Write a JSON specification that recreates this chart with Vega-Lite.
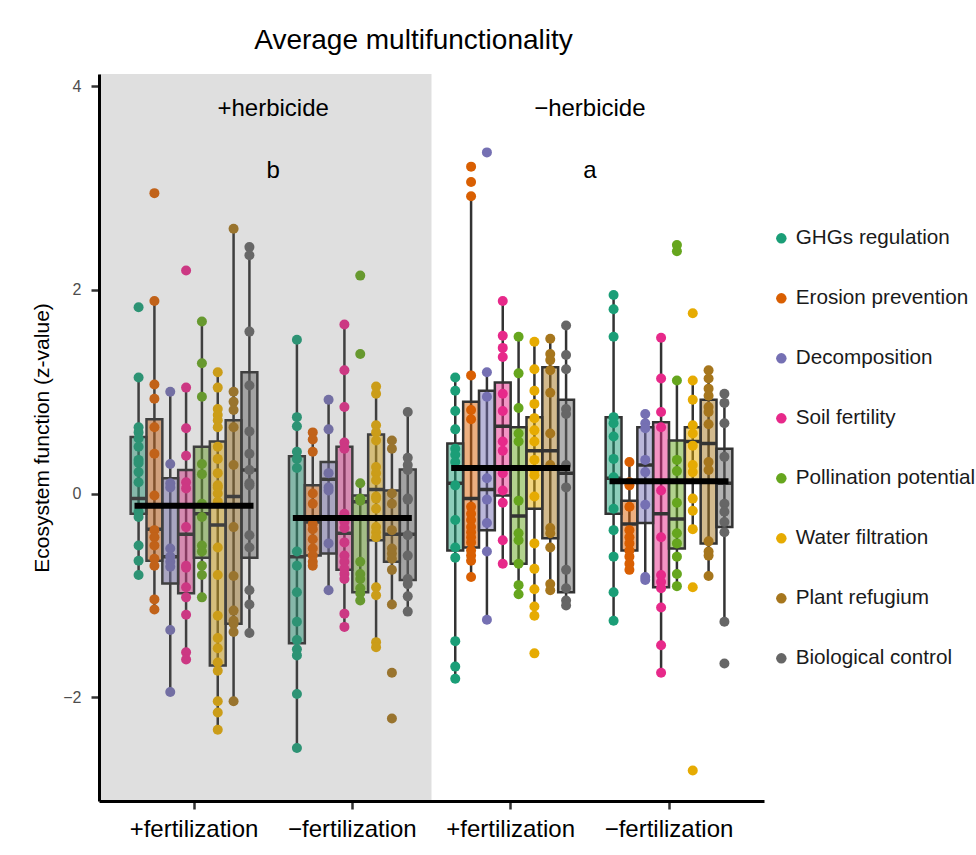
{
  "$schema": "https://vega.github.io/schema/vega-lite/v6.json",
  "width": 665,
  "height": 727,
  "autosize": "none",
  "padding": {"left": 99, "top": 74, "right": 212, "bottom": 54},
  "background": "white",
  "config": {
    "font": "Liberation Sans",
    "view": {"stroke": null},
    "axis": {"grid": false}
  },
  "title": {
    "text": "Average multifunctionality",
    "fontSize": 28,
    "fontWeight": "normal",
    "color": "black",
    "anchor": "middle",
    "frame": "group",
    "baseline": "alphabetic",
    "offset": -3,
    "dx": -18
  },
  "datasets": {
    "boxes": [
      {"g": "H+F+", "f": "GHGs regulation", "lo": -0.80, "q1": -0.20, "med": -0.05, "q3": 0.555, "hi": 1.14},
      {"g": "H+F+", "f": "Erosion prevention", "lo": -1.14, "q1": -0.66, "med": -0.35, "q3": 0.73, "hi": 1.89},
      {"g": "H+F+", "f": "Decomposition", "lo": -1.95, "q1": -0.885, "med": -0.62, "q3": 0.15, "hi": 1.00},
      {"g": "H+F+", "f": "Soil fertility", "lo": -1.63, "q1": -0.98, "med": -0.40, "q3": 0.23, "hi": 1.04},
      {"g": "H+F+", "f": "Pollination potential", "lo": -1.02, "q1": -0.63, "med": -0.20, "q3": 0.46, "hi": 1.69},
      {"g": "H+F+", "f": "Water filtration", "lo": -2.32, "q1": -1.69, "med": -0.31, "q3": 0.51, "hi": 1.19},
      {"g": "H+F+", "f": "Plant refugium", "lo": -2.04, "q1": -1.28, "med": -0.03, "q3": 0.72, "hi": 2.60},
      {"g": "H+F+", "f": "Biological control", "lo": -1.37, "q1": -0.63, "med": 0.23, "q3": 1.19, "hi": 2.42},
      {"g": "H+F−", "f": "GHGs regulation", "lo": -2.50, "q1": -1.47, "med": -0.62, "q3": 0.365, "hi": 1.51},
      {"g": "H+F−", "f": "Erosion prevention", "lo": -0.71, "q1": -0.61, "med": -0.28, "q3": 0.08, "hi": 0.60},
      {"g": "H+F−", "f": "Decomposition", "lo": -0.95, "q1": -0.59, "med": 0.14, "q3": 0.31, "hi": 0.92},
      {"g": "H+F−", "f": "Soil fertility", "lo": -1.31, "q1": -0.75, "med": -0.39, "q3": 0.46, "hi": 1.66},
      {"g": "H+F−", "f": "Pollination potential", "lo": -1.05, "q1": -0.97, "med": -0.08, "q3": -0.02, "hi": 0.10},
      {"g": "H+F−", "f": "Water filtration", "lo": -1.51, "q1": -0.46, "med": 0.04, "q3": 0.58, "hi": 1.05},
      {"g": "H+F−", "f": "Plant refugium", "lo": -1.09, "q1": -0.67, "med": -0.40, "q3": 0.03, "hi": 0.52},
      {"g": "H+F−", "f": "Biological control", "lo": -1.16, "q1": -0.85, "med": -0.40, "q3": 0.235, "hi": 0.80},
      {"g": "H−F+", "f": "GHGs regulation", "lo": -1.82, "q1": -0.56, "med": 0.10, "q3": 0.49, "hi": 1.14},
      {"g": "H−F+", "f": "Erosion prevention", "lo": -0.82, "q1": -0.53, "med": -0.05, "q3": 0.90, "hi": 2.92},
      {"g": "H−F+", "f": "Decomposition", "lo": -1.24, "q1": -0.36, "med": 0.04, "q3": 1.01, "hi": 1.19},
      {"g": "H−F+", "f": "Soil fertility", "lo": -0.69, "q1": -0.02, "med": 0.66, "q3": 1.09, "hi": 1.89},
      {"g": "H−F+", "f": "Pollination potential", "lo": -0.99, "q1": -0.69, "med": -0.22, "q3": 0.65, "hi": 1.54},
      {"g": "H−F+", "f": "Water filtration", "lo": -1.20, "q1": -0.15, "med": 0.42, "q3": 0.75, "hi": 1.49},
      {"g": "H−F+", "f": "Plant refugium", "lo": -0.95, "q1": -0.44, "med": 0.42, "q3": 1.24, "hi": 1.52},
      {"g": "H−F+", "f": "Biological control", "lo": -1.10, "q1": -0.97, "med": 0.20, "q3": 0.92, "hi": 1.65},
      {"g": "H−F−", "f": "GHGs regulation", "lo": -1.25, "q1": -0.20, "med": 0.15, "q3": 0.75, "hi": 1.95},
      {"g": "H−F−", "f": "Erosion prevention", "lo": -0.75, "q1": -0.56, "med": -0.30, "q3": -0.07, "hi": 0.31},
      {"g": "H−F−", "f": "Decomposition", "lo": -0.85, "q1": -0.29, "med": 0.28, "q3": 0.65, "hi": 0.78},
      {"g": "H−F−", "f": "Soil fertility", "lo": -1.76, "q1": -0.92, "med": -0.20, "q3": 0.70, "hi": 1.53},
      {"g": "H−F−", "f": "Pollination potential", "lo": -0.91, "q1": -0.54, "med": -0.25, "q3": 0.52, "hi": 1.11},
      {"g": "H−F−", "f": "Water filtration", "lo": -0.35, "q1": 0.12, "med": 0.51, "q3": 0.65, "hi": 1.11},
      {"g": "H−F−", "f": "Plant refugium", "lo": -0.81, "q1": -0.49, "med": 0.49, "q3": 0.92, "hi": 1.21},
      {"g": "H−F−", "f": "Biological control", "lo": -1.26, "q1": -0.33, "med": 0.10, "q3": 0.44, "hi": 0.98}
    ],
    "means": [
      {"g": "H+F+", "mean": -0.12},
      {"g": "H+F−", "mean": -0.24},
      {"g": "H−F+", "mean": 0.25},
      {"g": "H−F−", "mean": 0.12}
    ],
    "notes": [
      {"g": "H+F−", "label": "+herbicide", "v": 3.78},
      {"g": "H−F−", "label": "−herbicide", "v": 3.78},
      {"g": "H+F−", "label": "b", "v": 3.17},
      {"g": "H−F−", "label": "a", "v": 3.17}
    ],
    "pts": [
      {"g": "H+F+", "f": "GHGs regulation", "v": 1.83},
      {"g": "H+F+", "f": "GHGs regulation", "v": 1.14},
      {"g": "H+F+", "f": "GHGs regulation", "v": 0.65},
      {"g": "H+F+", "f": "GHGs regulation", "v": 0.60},
      {"g": "H+F+", "f": "GHGs regulation", "v": 0.54},
      {"g": "H+F+", "f": "GHGs regulation", "v": 0.46},
      {"g": "H+F+", "f": "GHGs regulation", "v": 0.33},
      {"g": "H+F+", "f": "GHGs regulation", "v": 0.30},
      {"g": "H+F+", "f": "GHGs regulation", "v": 0.21},
      {"g": "H+F+", "f": "GHGs regulation", "v": 0.11},
      {"g": "H+F+", "f": "GHGs regulation", "v": -0.18},
      {"g": "H+F+", "f": "GHGs regulation", "v": -0.23},
      {"g": "H+F+", "f": "GHGs regulation", "v": -0.51},
      {"g": "H+F+", "f": "GHGs regulation", "v": -0.66},
      {"g": "H+F+", "f": "GHGs regulation", "v": -0.80},
      {"g": "H+F+", "f": "Erosion prevention", "v": 2.95},
      {"g": "H+F+", "f": "Erosion prevention", "v": 1.89},
      {"g": "H+F+", "f": "Erosion prevention", "v": 1.07},
      {"g": "H+F+", "f": "Erosion prevention", "v": 0.93},
      {"g": "H+F+", "f": "Erosion prevention", "v": 0.65},
      {"g": "H+F+", "f": "Erosion prevention", "v": 0.39},
      {"g": "H+F+", "f": "Erosion prevention", "v": -0.02},
      {"g": "H+F+", "f": "Erosion prevention", "v": -0.36},
      {"g": "H+F+", "f": "Erosion prevention", "v": -0.43},
      {"g": "H+F+", "f": "Erosion prevention", "v": -0.51},
      {"g": "H+F+", "f": "Erosion prevention", "v": -0.64},
      {"g": "H+F+", "f": "Erosion prevention", "v": -0.71},
      {"g": "H+F+", "f": "Erosion prevention", "v": -1.04},
      {"g": "H+F+", "f": "Erosion prevention", "v": -1.14},
      {"g": "H+F+", "f": "Decomposition", "v": 1.00},
      {"g": "H+F+", "f": "Decomposition", "v": 0.29},
      {"g": "H+F+", "f": "Decomposition", "v": 0.10},
      {"g": "H+F+", "f": "Decomposition", "v": 0.06},
      {"g": "H+F+", "f": "Decomposition", "v": -0.54},
      {"g": "H+F+", "f": "Decomposition", "v": -0.62},
      {"g": "H+F+", "f": "Decomposition", "v": -0.67},
      {"g": "H+F+", "f": "Decomposition", "v": -0.72},
      {"g": "H+F+", "f": "Decomposition", "v": -1.34},
      {"g": "H+F+", "f": "Decomposition", "v": -1.95},
      {"g": "H+F+", "f": "Soil fertility", "v": 2.19},
      {"g": "H+F+", "f": "Soil fertility", "v": 1.04},
      {"g": "H+F+", "f": "Soil fertility", "v": 0.64},
      {"g": "H+F+", "f": "Soil fertility", "v": 0.37},
      {"g": "H+F+", "f": "Soil fertility", "v": 0.11},
      {"g": "H+F+", "f": "Soil fertility", "v": 0.05},
      {"g": "H+F+", "f": "Soil fertility", "v": -0.33},
      {"g": "H+F+", "f": "Soil fertility", "v": -0.71},
      {"g": "H+F+", "f": "Soil fertility", "v": -0.73},
      {"g": "H+F+", "f": "Soil fertility", "v": -0.92},
      {"g": "H+F+", "f": "Soil fertility", "v": -1.02},
      {"g": "H+F+", "f": "Soil fertility", "v": -1.19},
      {"g": "H+F+", "f": "Soil fertility", "v": -1.56},
      {"g": "H+F+", "f": "Soil fertility", "v": -1.63},
      {"g": "H+F+", "f": "Pollination potential", "v": 1.69},
      {"g": "H+F+", "f": "Pollination potential", "v": 1.28},
      {"g": "H+F+", "f": "Pollination potential", "v": 0.95},
      {"g": "H+F+", "f": "Pollination potential", "v": 0.29},
      {"g": "H+F+", "f": "Pollination potential", "v": 0.19},
      {"g": "H+F+", "f": "Pollination potential", "v": -0.10},
      {"g": "H+F+", "f": "Pollination potential", "v": -0.23},
      {"g": "H+F+", "f": "Pollination potential", "v": -0.51},
      {"g": "H+F+", "f": "Pollination potential", "v": -0.57},
      {"g": "H+F+", "f": "Pollination potential", "v": -0.71},
      {"g": "H+F+", "f": "Pollination potential", "v": -0.80},
      {"g": "H+F+", "f": "Pollination potential", "v": -1.02},
      {"g": "H+F+", "f": "Water filtration", "v": 1.19},
      {"g": "H+F+", "f": "Water filtration", "v": 1.04},
      {"g": "H+F+", "f": "Water filtration", "v": 0.83},
      {"g": "H+F+", "f": "Water filtration", "v": 0.77},
      {"g": "H+F+", "f": "Water filtration", "v": 0.72},
      {"g": "H+F+", "f": "Water filtration", "v": 0.65},
      {"g": "H+F+", "f": "Water filtration", "v": 0.46},
      {"g": "H+F+", "f": "Water filtration", "v": 0.34},
      {"g": "H+F+", "f": "Water filtration", "v": 0.20},
      {"g": "H+F+", "f": "Water filtration", "v": 0.08},
      {"g": "H+F+", "f": "Water filtration", "v": 0.06},
      {"g": "H+F+", "f": "Water filtration", "v": 0.00},
      {"g": "H+F+", "f": "Water filtration", "v": -0.08},
      {"g": "H+F+", "f": "Water filtration", "v": -0.53},
      {"g": "H+F+", "f": "Water filtration", "v": -0.80},
      {"g": "H+F+", "f": "Water filtration", "v": -1.20},
      {"g": "H+F+", "f": "Water filtration", "v": -1.42},
      {"g": "H+F+", "f": "Water filtration", "v": -1.52},
      {"g": "H+F+", "f": "Water filtration", "v": -1.66},
      {"g": "H+F+", "f": "Water filtration", "v": -1.74},
      {"g": "H+F+", "f": "Water filtration", "v": -2.04},
      {"g": "H+F+", "f": "Water filtration", "v": -2.15},
      {"g": "H+F+", "f": "Water filtration", "v": -2.32},
      {"g": "H+F+", "f": "Plant refugium", "v": 2.60},
      {"g": "H+F+", "f": "Plant refugium", "v": 1.00},
      {"g": "H+F+", "f": "Plant refugium", "v": 0.90},
      {"g": "H+F+", "f": "Plant refugium", "v": 0.82},
      {"g": "H+F+", "f": "Plant refugium", "v": 0.65},
      {"g": "H+F+", "f": "Plant refugium", "v": 0.28},
      {"g": "H+F+", "f": "Plant refugium", "v": -0.33},
      {"g": "H+F+", "f": "Plant refugium", "v": -0.81},
      {"g": "H+F+", "f": "Plant refugium", "v": -1.15},
      {"g": "H+F+", "f": "Plant refugium", "v": -1.25},
      {"g": "H+F+", "f": "Plant refugium", "v": -1.28},
      {"g": "H+F+", "f": "Plant refugium", "v": -1.36},
      {"g": "H+F+", "f": "Plant refugium", "v": -2.04},
      {"g": "H+F+", "f": "Biological control", "v": 2.42},
      {"g": "H+F+", "f": "Biological control", "v": 2.34},
      {"g": "H+F+", "f": "Biological control", "v": 1.59},
      {"g": "H+F+", "f": "Biological control", "v": 1.06},
      {"g": "H+F+", "f": "Biological control", "v": 0.61},
      {"g": "H+F+", "f": "Biological control", "v": 0.39},
      {"g": "H+F+", "f": "Biological control", "v": 0.23},
      {"g": "H+F+", "f": "Biological control", "v": 0.10},
      {"g": "H+F+", "f": "Biological control", "v": 0.08},
      {"g": "H+F+", "f": "Biological control", "v": -0.41},
      {"g": "H+F+", "f": "Biological control", "v": -0.53},
      {"g": "H+F+", "f": "Biological control", "v": -0.95},
      {"g": "H+F+", "f": "Biological control", "v": -1.09},
      {"g": "H+F+", "f": "Biological control", "v": -1.37},
      {"g": "H+F−", "f": "GHGs regulation", "v": 1.51},
      {"g": "H+F−", "f": "GHGs regulation", "v": 0.75},
      {"g": "H+F−", "f": "GHGs regulation", "v": 0.66},
      {"g": "H+F−", "f": "GHGs regulation", "v": 0.41},
      {"g": "H+F−", "f": "GHGs regulation", "v": 0.34},
      {"g": "H+F−", "f": "GHGs regulation", "v": 0.25},
      {"g": "H+F−", "f": "GHGs regulation", "v": -0.57},
      {"g": "H+F−", "f": "GHGs regulation", "v": -0.71},
      {"g": "H+F−", "f": "GHGs regulation", "v": -0.97},
      {"g": "H+F−", "f": "GHGs regulation", "v": -1.26},
      {"g": "H+F−", "f": "GHGs regulation", "v": -1.44},
      {"g": "H+F−", "f": "GHGs regulation", "v": -1.53},
      {"g": "H+F−", "f": "GHGs regulation", "v": -1.59},
      {"g": "H+F−", "f": "GHGs regulation", "v": -1.97},
      {"g": "H+F−", "f": "GHGs regulation", "v": -2.50},
      {"g": "H+F−", "f": "Erosion prevention", "v": 0.60},
      {"g": "H+F−", "f": "Erosion prevention", "v": 0.53},
      {"g": "H+F−", "f": "Erosion prevention", "v": 0.41},
      {"g": "H+F−", "f": "Erosion prevention", "v": 0.00},
      {"g": "H+F−", "f": "Erosion prevention", "v": -0.10},
      {"g": "H+F−", "f": "Erosion prevention", "v": -0.30},
      {"g": "H+F−", "f": "Erosion prevention", "v": -0.35},
      {"g": "H+F−", "f": "Erosion prevention", "v": -0.45},
      {"g": "H+F−", "f": "Erosion prevention", "v": -0.54},
      {"g": "H+F−", "f": "Erosion prevention", "v": -0.61},
      {"g": "H+F−", "f": "Erosion prevention", "v": -0.67},
      {"g": "H+F−", "f": "Erosion prevention", "v": -0.71},
      {"g": "H+F−", "f": "Decomposition", "v": 0.92},
      {"g": "H+F−", "f": "Decomposition", "v": 0.63},
      {"g": "H+F−", "f": "Decomposition", "v": 0.20},
      {"g": "H+F−", "f": "Decomposition", "v": 0.06},
      {"g": "H+F−", "f": "Decomposition", "v": 0.03},
      {"g": "H+F−", "f": "Decomposition", "v": -0.49},
      {"g": "H+F−", "f": "Decomposition", "v": -0.95},
      {"g": "H+F−", "f": "Soil fertility", "v": 1.66},
      {"g": "H+F−", "f": "Soil fertility", "v": 1.21},
      {"g": "H+F−", "f": "Soil fertility", "v": 0.85},
      {"g": "H+F−", "f": "Soil fertility", "v": 0.50},
      {"g": "H+F−", "f": "Soil fertility", "v": 0.44},
      {"g": "H+F−", "f": "Soil fertility", "v": -0.20},
      {"g": "H+F−", "f": "Soil fertility", "v": -0.28},
      {"g": "H+F−", "f": "Soil fertility", "v": -0.34},
      {"g": "H+F−", "f": "Soil fertility", "v": -0.48},
      {"g": "H+F−", "f": "Soil fertility", "v": -0.61},
      {"g": "H+F−", "f": "Soil fertility", "v": -0.67},
      {"g": "H+F−", "f": "Soil fertility", "v": -0.74},
      {"g": "H+F−", "f": "Soil fertility", "v": -0.79},
      {"g": "H+F−", "f": "Soil fertility", "v": -0.84},
      {"g": "H+F−", "f": "Soil fertility", "v": -1.18},
      {"g": "H+F−", "f": "Soil fertility", "v": -1.31},
      {"g": "H+F−", "f": "Pollination potential", "v": 2.14},
      {"g": "H+F−", "f": "Pollination potential", "v": 1.37},
      {"g": "H+F−", "f": "Pollination potential", "v": 0.10},
      {"g": "H+F−", "f": "Pollination potential", "v": -0.05},
      {"g": "H+F−", "f": "Pollination potential", "v": -0.07},
      {"g": "H+F−", "f": "Pollination potential", "v": -0.67},
      {"g": "H+F−", "f": "Pollination potential", "v": -0.79},
      {"g": "H+F−", "f": "Pollination potential", "v": -0.84},
      {"g": "H+F−", "f": "Pollination potential", "v": -0.93},
      {"g": "H+F−", "f": "Pollination potential", "v": -0.98},
      {"g": "H+F−", "f": "Pollination potential", "v": -1.05},
      {"g": "H+F−", "f": "Water filtration", "v": 1.05},
      {"g": "H+F−", "f": "Water filtration", "v": 0.98},
      {"g": "H+F−", "f": "Water filtration", "v": 0.67},
      {"g": "H+F−", "f": "Water filtration", "v": 0.60},
      {"g": "H+F−", "f": "Water filtration", "v": 0.52},
      {"g": "H+F−", "f": "Water filtration", "v": 0.26},
      {"g": "H+F−", "f": "Water filtration", "v": 0.20},
      {"g": "H+F−", "f": "Water filtration", "v": 0.13},
      {"g": "H+F−", "f": "Water filtration", "v": -0.03},
      {"g": "H+F−", "f": "Water filtration", "v": -0.05},
      {"g": "H+F−", "f": "Water filtration", "v": -0.15},
      {"g": "H+F−", "f": "Water filtration", "v": -0.33},
      {"g": "H+F−", "f": "Water filtration", "v": -0.38},
      {"g": "H+F−", "f": "Water filtration", "v": -0.43},
      {"g": "H+F−", "f": "Water filtration", "v": -0.92},
      {"g": "H+F−", "f": "Water filtration", "v": -1.00},
      {"g": "H+F−", "f": "Water filtration", "v": -1.46},
      {"g": "H+F−", "f": "Water filtration", "v": -1.51},
      {"g": "H+F−", "f": "Plant refugium", "v": 0.52},
      {"g": "H+F−", "f": "Plant refugium", "v": 0.44},
      {"g": "H+F−", "f": "Plant refugium", "v": 0.00},
      {"g": "H+F−", "f": "Plant refugium", "v": -0.10},
      {"g": "H+F−", "f": "Plant refugium", "v": -0.36},
      {"g": "H+F−", "f": "Plant refugium", "v": -0.54},
      {"g": "H+F−", "f": "Plant refugium", "v": -0.59},
      {"g": "H+F−", "f": "Plant refugium", "v": -0.64},
      {"g": "H+F−", "f": "Plant refugium", "v": -0.75},
      {"g": "H+F−", "f": "Plant refugium", "v": -1.09},
      {"g": "H+F−", "f": "Plant refugium", "v": -1.76},
      {"g": "H+F−", "f": "Plant refugium", "v": -2.21},
      {"g": "H+F−", "f": "Biological control", "v": 0.80},
      {"g": "H+F−", "f": "Biological control", "v": 0.35},
      {"g": "H+F−", "f": "Biological control", "v": 0.28},
      {"g": "H+F−", "f": "Biological control", "v": 0.23},
      {"g": "H+F−", "f": "Biological control", "v": -0.05},
      {"g": "H+F−", "f": "Biological control", "v": -0.06},
      {"g": "H+F−", "f": "Biological control", "v": -0.41},
      {"g": "H+F−", "f": "Biological control", "v": -0.61},
      {"g": "H+F−", "f": "Biological control", "v": -0.84},
      {"g": "H+F−", "f": "Biological control", "v": -0.89},
      {"g": "H+F−", "f": "Biological control", "v": -1.01},
      {"g": "H+F−", "f": "Biological control", "v": -1.16},
      {"g": "H−F+", "f": "GHGs regulation", "v": 1.14},
      {"g": "H−F+", "f": "GHGs regulation", "v": 1.01},
      {"g": "H−F+", "f": "GHGs regulation", "v": 0.81},
      {"g": "H−F+", "f": "GHGs regulation", "v": 0.63},
      {"g": "H−F+", "f": "GHGs regulation", "v": 0.44},
      {"g": "H−F+", "f": "GHGs regulation", "v": 0.38},
      {"g": "H−F+", "f": "GHGs regulation", "v": 0.31},
      {"g": "H−F+", "f": "GHGs regulation", "v": 0.08},
      {"g": "H−F+", "f": "GHGs regulation", "v": -0.26},
      {"g": "H−F+", "f": "GHGs regulation", "v": -0.53},
      {"g": "H−F+", "f": "GHGs regulation", "v": -0.63},
      {"g": "H−F+", "f": "GHGs regulation", "v": -1.45},
      {"g": "H−F+", "f": "GHGs regulation", "v": -1.70},
      {"g": "H−F+", "f": "GHGs regulation", "v": -1.82},
      {"g": "H−F+", "f": "Erosion prevention", "v": 3.21},
      {"g": "H−F+", "f": "Erosion prevention", "v": 3.06},
      {"g": "H−F+", "f": "Erosion prevention", "v": 2.92},
      {"g": "H−F+", "f": "Erosion prevention", "v": 1.16},
      {"g": "H−F+", "f": "Erosion prevention", "v": 0.82},
      {"g": "H−F+", "f": "Erosion prevention", "v": 0.73},
      {"g": "H−F+", "f": "Erosion prevention", "v": -0.13},
      {"g": "H−F+", "f": "Erosion prevention", "v": -0.20},
      {"g": "H−F+", "f": "Erosion prevention", "v": -0.26},
      {"g": "H−F+", "f": "Erosion prevention", "v": -0.33},
      {"g": "H−F+", "f": "Erosion prevention", "v": -0.38},
      {"g": "H−F+", "f": "Erosion prevention", "v": -0.43},
      {"g": "H−F+", "f": "Erosion prevention", "v": -0.48},
      {"g": "H−F+", "f": "Erosion prevention", "v": -0.56},
      {"g": "H−F+", "f": "Erosion prevention", "v": -0.61},
      {"g": "H−F+", "f": "Erosion prevention", "v": -0.66},
      {"g": "H−F+", "f": "Erosion prevention", "v": -0.82},
      {"g": "H−F+", "f": "Decomposition", "v": 3.35},
      {"g": "H−F+", "f": "Decomposition", "v": 1.19},
      {"g": "H−F+", "f": "Decomposition", "v": 0.95},
      {"g": "H−F+", "f": "Decomposition", "v": 0.15},
      {"g": "H−F+", "f": "Decomposition", "v": -0.06},
      {"g": "H−F+", "f": "Decomposition", "v": -0.29},
      {"g": "H−F+", "f": "Decomposition", "v": -0.57},
      {"g": "H−F+", "f": "Decomposition", "v": -1.24},
      {"g": "H−F+", "f": "Soil fertility", "v": 1.89},
      {"g": "H−F+", "f": "Soil fertility", "v": 1.55},
      {"g": "H−F+", "f": "Soil fertility", "v": 1.43},
      {"g": "H−F+", "f": "Soil fertility", "v": 1.34},
      {"g": "H−F+", "f": "Soil fertility", "v": 0.98},
      {"g": "H−F+", "f": "Soil fertility", "v": 0.81},
      {"g": "H−F+", "f": "Soil fertility", "v": 0.51},
      {"g": "H−F+", "f": "Soil fertility", "v": 0.42},
      {"g": "H−F+", "f": "Soil fertility", "v": 0.20},
      {"g": "H−F+", "f": "Soil fertility", "v": 0.03},
      {"g": "H−F+", "f": "Soil fertility", "v": -0.09},
      {"g": "H−F+", "f": "Soil fertility", "v": -0.46},
      {"g": "H−F+", "f": "Soil fertility", "v": -0.69},
      {"g": "H−F+", "f": "Pollination potential", "v": 1.54},
      {"g": "H−F+", "f": "Pollination potential", "v": 1.18},
      {"g": "H−F+", "f": "Pollination potential", "v": 0.84},
      {"g": "H−F+", "f": "Pollination potential", "v": 0.59},
      {"g": "H−F+", "f": "Pollination potential", "v": 0.51},
      {"g": "H−F+", "f": "Pollination potential", "v": -0.07},
      {"g": "H−F+", "f": "Pollination potential", "v": -0.39},
      {"g": "H−F+", "f": "Pollination potential", "v": -0.46},
      {"g": "H−F+", "f": "Pollination potential", "v": -0.69},
      {"g": "H−F+", "f": "Pollination potential", "v": -0.90},
      {"g": "H−F+", "f": "Pollination potential", "v": -0.99},
      {"g": "H−F+", "f": "Water filtration", "v": 1.49},
      {"g": "H−F+", "f": "Water filtration", "v": 1.22},
      {"g": "H−F+", "f": "Water filtration", "v": 1.01},
      {"g": "H−F+", "f": "Water filtration", "v": 0.88},
      {"g": "H−F+", "f": "Water filtration", "v": 0.74},
      {"g": "H−F+", "f": "Water filtration", "v": 0.62},
      {"g": "H−F+", "f": "Water filtration", "v": 0.51},
      {"g": "H−F+", "f": "Water filtration", "v": 0.33},
      {"g": "H−F+", "f": "Water filtration", "v": 0.23},
      {"g": "H−F+", "f": "Water filtration", "v": 0.18},
      {"g": "H−F+", "f": "Water filtration", "v": -0.03},
      {"g": "H−F+", "f": "Water filtration", "v": -0.49},
      {"g": "H−F+", "f": "Water filtration", "v": -0.74},
      {"g": "H−F+", "f": "Water filtration", "v": -0.94},
      {"g": "H−F+", "f": "Water filtration", "v": -1.11},
      {"g": "H−F+", "f": "Water filtration", "v": -1.20},
      {"g": "H−F+", "f": "Water filtration", "v": -1.57},
      {"g": "H−F+", "f": "Plant refugium", "v": 1.52},
      {"g": "H−F+", "f": "Plant refugium", "v": 1.37},
      {"g": "H−F+", "f": "Plant refugium", "v": 1.31},
      {"g": "H−F+", "f": "Plant refugium", "v": 1.21},
      {"g": "H−F+", "f": "Plant refugium", "v": 0.99},
      {"g": "H−F+", "f": "Plant refugium", "v": 0.59},
      {"g": "H−F+", "f": "Plant refugium", "v": 0.28},
      {"g": "H−F+", "f": "Plant refugium", "v": -0.34},
      {"g": "H−F+", "f": "Plant refugium", "v": -0.39},
      {"g": "H−F+", "f": "Plant refugium", "v": -0.53},
      {"g": "H−F+", "f": "Plant refugium", "v": -0.89},
      {"g": "H−F+", "f": "Plant refugium", "v": -0.95},
      {"g": "H−F+", "f": "Biological control", "v": 1.65},
      {"g": "H−F+", "f": "Biological control", "v": 1.36},
      {"g": "H−F+", "f": "Biological control", "v": 1.22},
      {"g": "H−F+", "f": "Biological control", "v": 0.83},
      {"g": "H−F+", "f": "Biological control", "v": 0.78},
      {"g": "H−F+", "f": "Biological control", "v": 0.28},
      {"g": "H−F+", "f": "Biological control", "v": 0.06},
      {"g": "H−F+", "f": "Biological control", "v": -0.75},
      {"g": "H−F+", "f": "Biological control", "v": -0.93},
      {"g": "H−F+", "f": "Biological control", "v": -1.05},
      {"g": "H−F+", "f": "Biological control", "v": -1.10},
      {"g": "H−F−", "f": "GHGs regulation", "v": 1.95},
      {"g": "H−F−", "f": "GHGs regulation", "v": 1.81},
      {"g": "H−F−", "f": "GHGs regulation", "v": 1.54},
      {"g": "H−F−", "f": "GHGs regulation", "v": 0.75},
      {"g": "H−F−", "f": "GHGs regulation", "v": 0.69},
      {"g": "H−F−", "f": "GHGs regulation", "v": 0.56},
      {"g": "H−F−", "f": "GHGs regulation", "v": 0.34},
      {"g": "H−F−", "f": "GHGs regulation", "v": 0.16},
      {"g": "H−F−", "f": "GHGs regulation", "v": -0.15},
      {"g": "H−F−", "f": "GHGs regulation", "v": -0.36},
      {"g": "H−F−", "f": "GHGs regulation", "v": -0.62},
      {"g": "H−F−", "f": "GHGs regulation", "v": -0.97},
      {"g": "H−F−", "f": "GHGs regulation", "v": -1.25},
      {"g": "H−F−", "f": "Erosion prevention", "v": 0.31},
      {"g": "H−F−", "f": "Erosion prevention", "v": 0.11},
      {"g": "H−F−", "f": "Erosion prevention", "v": 0.08},
      {"g": "H−F−", "f": "Erosion prevention", "v": -0.13},
      {"g": "H−F−", "f": "Erosion prevention", "v": -0.36},
      {"g": "H−F−", "f": "Erosion prevention", "v": -0.43},
      {"g": "H−F−", "f": "Erosion prevention", "v": -0.49},
      {"g": "H−F−", "f": "Erosion prevention", "v": -0.56},
      {"g": "H−F−", "f": "Erosion prevention", "v": -0.62},
      {"g": "H−F−", "f": "Erosion prevention", "v": -0.69},
      {"g": "H−F−", "f": "Erosion prevention", "v": -0.75},
      {"g": "H−F−", "f": "Decomposition", "v": 0.78},
      {"g": "H−F−", "f": "Decomposition", "v": 0.69},
      {"g": "H−F−", "f": "Decomposition", "v": 0.64},
      {"g": "H−F−", "f": "Decomposition", "v": 0.33},
      {"g": "H−F−", "f": "Decomposition", "v": 0.21},
      {"g": "H−F−", "f": "Decomposition", "v": -0.11},
      {"g": "H−F−", "f": "Decomposition", "v": -0.82},
      {"g": "H−F−", "f": "Decomposition", "v": -0.85},
      {"g": "H−F−", "f": "Soil fertility", "v": 1.53},
      {"g": "H−F−", "f": "Soil fertility", "v": 1.13},
      {"g": "H−F−", "f": "Soil fertility", "v": 0.80},
      {"g": "H−F−", "f": "Soil fertility", "v": 0.65},
      {"g": "H−F−", "f": "Soil fertility", "v": 0.03},
      {"g": "H−F−", "f": "Soil fertility", "v": -0.43},
      {"g": "H−F−", "f": "Soil fertility", "v": -0.80},
      {"g": "H−F−", "f": "Soil fertility", "v": -0.87},
      {"g": "H−F−", "f": "Soil fertility", "v": -0.93},
      {"g": "H−F−", "f": "Soil fertility", "v": -1.12},
      {"g": "H−F−", "f": "Soil fertility", "v": -1.49},
      {"g": "H−F−", "f": "Soil fertility", "v": -1.76},
      {"g": "H−F−", "f": "Pollination potential", "v": 2.44},
      {"g": "H−F−", "f": "Pollination potential", "v": 2.38},
      {"g": "H−F−", "f": "Pollination potential", "v": 1.11},
      {"g": "H−F−", "f": "Pollination potential", "v": 0.33},
      {"g": "H−F−", "f": "Pollination potential", "v": 0.22},
      {"g": "H−F−", "f": "Pollination potential", "v": -0.09},
      {"g": "H−F−", "f": "Pollination potential", "v": -0.39},
      {"g": "H−F−", "f": "Pollination potential", "v": -0.49},
      {"g": "H−F−", "f": "Pollination potential", "v": -0.62},
      {"g": "H−F−", "f": "Pollination potential", "v": -0.79},
      {"g": "H−F−", "f": "Pollination potential", "v": -0.91},
      {"g": "H−F−", "f": "Water filtration", "v": 1.77},
      {"g": "H−F−", "f": "Water filtration", "v": 1.11},
      {"g": "H−F−", "f": "Water filtration", "v": 0.92},
      {"g": "H−F−", "f": "Water filtration", "v": 0.67},
      {"g": "H−F−", "f": "Water filtration", "v": 0.59},
      {"g": "H−F−", "f": "Water filtration", "v": 0.47},
      {"g": "H−F−", "f": "Water filtration", "v": 0.28},
      {"g": "H−F−", "f": "Water filtration", "v": 0.21},
      {"g": "H−F−", "f": "Water filtration", "v": -0.05},
      {"g": "H−F−", "f": "Water filtration", "v": -0.17},
      {"g": "H−F−", "f": "Water filtration", "v": -0.35},
      {"g": "H−F−", "f": "Water filtration", "v": -0.92},
      {"g": "H−F−", "f": "Water filtration", "v": -2.72},
      {"g": "H−F−", "f": "Plant refugium", "v": 1.21},
      {"g": "H−F−", "f": "Plant refugium", "v": 1.13},
      {"g": "H−F−", "f": "Plant refugium", "v": 1.03},
      {"g": "H−F−", "f": "Plant refugium", "v": 0.96},
      {"g": "H−F−", "f": "Plant refugium", "v": 0.85},
      {"g": "H−F−", "f": "Plant refugium", "v": 0.80},
      {"g": "H−F−", "f": "Plant refugium", "v": 0.68},
      {"g": "H−F−", "f": "Plant refugium", "v": 0.31},
      {"g": "H−F−", "f": "Plant refugium", "v": 0.23},
      {"g": "H−F−", "f": "Plant refugium", "v": -0.47},
      {"g": "H−F−", "f": "Plant refugium", "v": -0.57},
      {"g": "H−F−", "f": "Plant refugium", "v": -0.61},
      {"g": "H−F−", "f": "Plant refugium", "v": -0.81},
      {"g": "H−F−", "f": "Biological control", "v": 0.98},
      {"g": "H−F−", "f": "Biological control", "v": 0.89},
      {"g": "H−F−", "f": "Biological control", "v": 0.69},
      {"g": "H−F−", "f": "Biological control", "v": 0.36},
      {"g": "H−F−", "f": "Biological control", "v": -0.10},
      {"g": "H−F−", "f": "Biological control", "v": -0.18},
      {"g": "H−F−", "f": "Biological control", "v": -0.28},
      {"g": "H−F−", "f": "Biological control", "v": -0.38},
      {"g": "H−F−", "f": "Biological control", "v": -1.26},
      {"g": "H−F−", "f": "Biological control", "v": -1.67}
    ]
  },
  "layer": [
    {
      "encoding": {
        "x": {
          "field": "g",
          "type": "nominal",
          "title": null,
          "scale": {"domain": ["H+F+", "H+F−", "H−F+", "H−F−"], "paddingInner": 0, "paddingOuter": 0.1},
          "axis": {
            "labelExpr": "slice(datum.value, 2) == 'F+' ? '+fertilization' : '−fertilization'",
            "labelAngle": 0,
            "labelFontSize": 24,
            "labelColor": "black",
            "labelPadding": 8,
            "domainColor": "black",
            "domainWidth": 3,
            "tickColor": "#333333",
            "tickWidth": 2.5,
            "tickSize": 8,
            "zindex": 1
          }
        },
        "xOffset": {
          "field": "f",
          "type": "nominal",
          "scale": {
            "domain": ["GHGs regulation", "Erosion prevention", "Decomposition", "Soil fertility", "Pollination potential", "Water filtration", "Plant refugium", "Biological control"],
            "paddingInner": 0,
            "paddingOuter": 1.3333
          }
        }
      },
      "layer": [
        {
          "data": {"name": "boxes"},
          "mark": {"type": "rule", "color": "#333333", "strokeWidth": 2.5},
          "encoding": {
            "y": {
              "field": "lo",
              "type": "quantitative",
              "scale": {"domain": [-3.02, 4.12], "nice": false, "zero": false},
              "axis": {
                "values": [-2, 0, 2, 4],
                "format": "d",
                "title": "Ecosystem function (z-value)",
                "titleFontSize": 21,
                "titleFontWeight": "normal",
                "titleColor": "black",
                "titlePadding": 10,
                "labelFontSize": 16,
                "labelColor": "#4d4d4d",
                "labelPadding": 10,
                "domainColor": "black",
                "domainWidth": 3,
                "tickColor": "#333333",
                "tickWidth": 2.5,
                "tickSize": 8,
                "zindex": 1
              }
            },
            "y2": {"field": "hi"}
          }
        },
        {
          "data": {"name": "boxes"},
          "mark": {"type": "bar", "fillOpacity": 0.5, "stroke": "#333333", "strokeWidth": 2.5},
          "encoding": {
            "y": {"field": "q3", "type": "quantitative"},
            "y2": {"field": "q1"},
            "fill": {
              "field": "f",
              "type": "nominal",
              "sort": ["GHGs regulation", "Erosion prevention", "Decomposition", "Soil fertility", "Pollination potential", "Water filtration", "Plant refugium", "Biological control"],
              "scale": {
                "range": ["#1b9e77", "#d95f02", "#7570b3", "#e7298a", "#66a61e", "#e6ab02", "#a6761d", "#666666"]
              },
              "legend": null
            }
          }
        },
        {
          "data": {"name": "boxes"},
          "mark": {"type": "bar", "fillOpacity": 0, "stroke": "#333333", "strokeWidth": 3.5},
          "encoding": {
            "y": {"field": "med", "type": "quantitative"},
            "y2": {"field": "med"}
          }
        },
        {
          "data": {"name": "pts"},
          "mark": {"type": "circle", "size": 100, "opacity": 1},
          "encoding": {
            "y": {"field": "v", "type": "quantitative"},
            "color": {
              "field": "f",
              "type": "nominal",
              "scale": {
                "domain": ["GHGs regulation", "Erosion prevention", "Decomposition", "Soil fertility", "Pollination potential", "Water filtration", "Plant refugium", "Biological control"],
                "range": ["#1b9e77", "#d95f02", "#7570b3", "#e7298a", "#66a61e", "#e6ab02", "#a6761d", "#666666"]
              },
              "legend": {
                "title": null,
                "orient": "none",
                "legendX": 672,
                "legendY": 154,
                "symbolType": "circle",
                "symbolSize": 110,
                "symbolOpacity": 1,
                "labelFontSize": 20.7,
                "labelColor": "#1a1a1a",
                "labelOffset": 4,
                "labelLimit": 300,
                "rowPadding": 38
              }
            }
          }
        }
      ]
    },
    {
      "data": {"values": [{"herbicide": "+herbicide"}]},
      "mark": {"type": "rect", "color": "#6e6e6e", "fillOpacity": 0.22},
      "encoding": {
        "x": {
          "field": "herbicide",
          "type": "nominal",
          "scale": {"domain": ["+herbicide", "−herbicide"], "paddingInner": 0, "paddingOuter": 0},
          "axis": null
        }
      }
    },
    {
      "encoding": {
        "x": {
          "field": "g",
          "type": "nominal",
          "scale": {"domain": ["H+F+", "H+F−", "H−F+", "H−F−"], "paddingInner": 0, "paddingOuter": 0.1},
          "axis": null
        }
      },
      "layer": [
        {
          "data": {"name": "means"},
          "mark": {"type": "tick", "color": "black", "thickness": 6, "size": 119, "orient": "horizontal", "opacity": 1},
          "encoding": {
            "y": {"field": "mean", "type": "quantitative"}
          }
        },
        {
          "data": {"name": "notes"},
          "mark": {"type": "text", "fontSize": 24, "color": "black"},
          "encoding": {
            "x": {"field": "g", "type": "nominal", "bandPosition": 0},
            "y": {"field": "v", "type": "quantitative"},
            "text": {"field": "label"}
          }
        }
      ]
    }
  ],
  "resolve": {"scale": {"x": "independent"}, "axis": {"x": "independent"}}
}
